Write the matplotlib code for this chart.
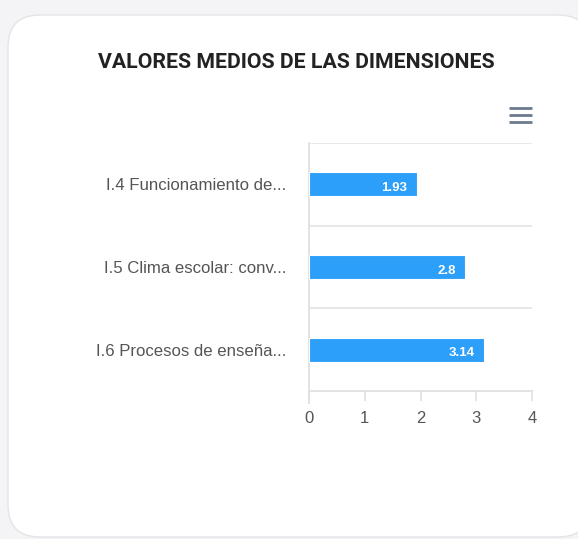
import matplotlib
matplotlib.use("Agg")
import matplotlib.pyplot as plt
from matplotlib.patches import FancyBboxPatch
from matplotlib.lines import Line2D

title = "VALORES MEDIOS DE LAS DIMENSIONES"
categories = ["I.4 Funcionamiento de...", "I.5 Clima escolar: conv...", "I.6 Procesos de enseña..."]
values = [1.93, 2.8, 3.14]
xticks = [0, 1, 2, 3, 4]

W, H = 578, 539
DPI = 100
fig = plt.figure(figsize=(W / DPI, H / DPI), dpi=DPI)
fig.patch.set_facecolor("#f4f4f7")

def px(x, y):
    return x / W, 1 - y / H

# card
card = FancyBboxPatch((8 / DPI, (H - 537) / DPI), (590 - 8) / DPI, (537 - 15) / DPI,
                      boxstyle="round,pad=0,rounding_size=0.32",
                      transform=fig.dpi_scale_trans, facecolor="white",
                      edgecolor="#e4e4e8", linewidth=1.0, zorder=-5)
fig.patches.append(card)

# title
fig.text(*px(296, 62), title, ha="center", va="center", fontsize=15.3,
         fontweight="bold", family=["Roboto", "DejaVu Sans"], color="#222222")

# hamburger menu
for yy in [108, 115, 122]:
    x0, y0 = px(509, yy)
    x1, _ = px(532, yy)
    fig.add_artist(Line2D([x0, x1], [y0, y0], transform=fig.transFigure,
                          color="#6b7a8c", linewidth=2.0, solid_capstyle="butt"))

left, top = px(309, 143)
right, bottom = px(532, 391)
ax = fig.add_axes([left, bottom, right - left, top - bottom])
ax.set_zorder(5)
ax.set_facecolor("none")

n = len(categories)
ypos = list(range(n))
ax.barh(ypos, values, height=0.29, color="#2b9ffa", edgecolor="#ffffff",
        linewidth=0.8, zorder=3)
ax.set_xlim(0, 4)
ax.set_ylim(n - 0.5, -0.5)

for y, v in zip(ypos, values):
    ax.annotate(f"{v:g}", (v, y), xytext=(-6.5, -1.5), textcoords="offset points",
                ha="right", va="center_baseline", color="white", fontsize=9.5,
                fontweight="bold", family=["Liberation Sans", "DejaVu Sans"], zorder=4)

# category boundary gridlines
for b in [-0.5, 0.5, 1.5]:
    ax.axhline(b, color="#e6e6e6", linewidth=1.3, zorder=1)

ax.set_yticks(ypos)
ax.set_yticklabels(categories, fontsize=12.1, color="#555555",
                   family=["Liberation Sans", "DejaVu Sans"])
ax.tick_params(axis="y", length=0, pad=16.5)
ax.set_xticks(xticks)
ax.set_xticklabels([str(t) for t in xticks], fontsize=12, color="#555555",
                   family=["Liberation Sans", "DejaVu Sans"])
ax.tick_params(axis="x", length=7.5, width=1.2, color="#e0e0e0", pad=7)

for s in ["top", "right"]:
    ax.spines[s].set_visible(False)
ax.spines["left"].set_color("#e0e0e0")
ax.spines["left"].set_linewidth(1.3)
ax.spines["bottom"].set_color("#e0e0e0")
ax.spines["bottom"].set_linewidth(1.3)
ax.spines["left"].set_bounds(n - 0.5 + 0.15, -0.5)
ax.grid(False)

fig.savefig("out.png", dpi=DPI, facecolor=fig.get_facecolor())
